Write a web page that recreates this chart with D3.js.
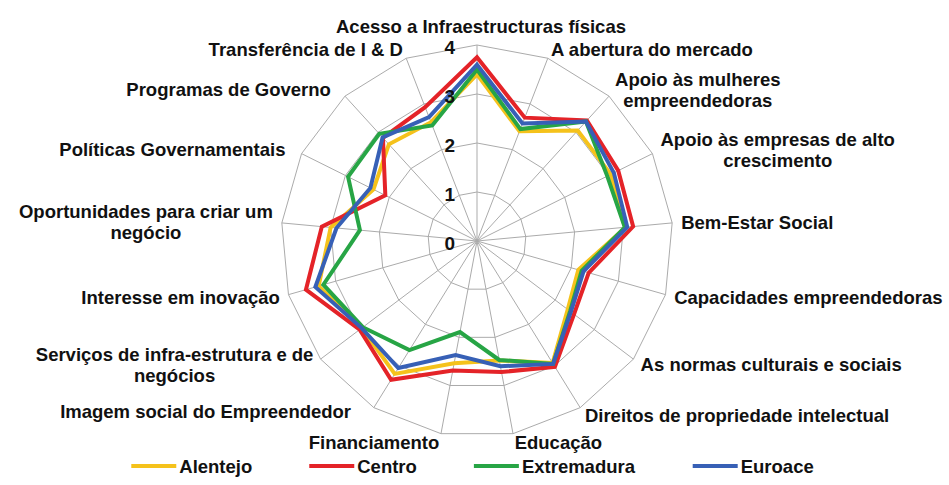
<!DOCTYPE html>
<html>
<head>
<meta charset="utf-8">
<script src="https://cdn.jsdelivr.net/npm/d3@7/dist/d3.min.js"></script>
<style>
  html, body { margin: 0; padding: 0; background: #ffffff; }
  svg { display: block; }
  text { font-family: "Liberation Sans", Arial, sans-serif; font-weight: bold; fill: #111111; }
</style>
</head>
<body>
<svg id="chart" width="949" height="485"></svg>
<script>
// ---------------- data ----------------
const categories = [
  "Acesso a Infraestructuras físicas",
  "A abertura do mercado",
  "Apoio às mulheres empreendedoras",
  "Apoio às empresas de alto crescimento",
  "Bem-Estar Social",
  "Capacidades empreendedoras",
  "As normas culturais e sociais",
  "Direitos de propriedade intelectual",
  "Educação",
  "Financiamento",
  "Imagem social do Empreendedor",
  "Serviços de infra-estrutura e de negócios",
  "Interesse em inovação",
  "Oportunidades para criar um negócio",
  "Políticas Governamentais",
  "Programas de Governo",
  "Transferência de I & D"
];
const seriesNames = ["Alentejo", "Centro", "Extremadura", "Euroace"];
const alentejo    = [3.40, 2.40, 3.05, 3.05, 3.05, 2.15, 2.32, 2.93, 2.48, 2.54, 3.19, 2.95, 3.36, 3.00, 2.36, 2.67, 2.60];
const centro      = [3.75, 2.70, 3.33, 3.22, 3.20, 2.37, 2.48, 3.02, 2.72, 2.69, 3.33, 3.00, 3.63, 3.18, 2.09, 2.85, 2.93];
const extremadura = [3.50, 2.45, 3.30, 2.97, 3.03, 2.22, 2.38, 2.95, 2.47, 1.89, 2.62, 2.92, 3.26, 2.40, 2.94, 2.96, 2.53];
const euroace     = [3.60, 2.57, 3.30, 3.12, 3.08, 2.26, 2.40, 2.95, 2.60, 2.37, 3.05, 2.95, 3.43, 2.88, 2.43, 2.86, 2.71];
const tickValues  = [0, 1, 2, 3, 4];
const tickLabels  = ["0", "1", "2", "3", "4"];

// ---------------- layout ----------------
const svg = d3.select("#chart");
const cx = 477, cy = 241;
const maxR = 196;
const colors = ["#F5C21B", "#E42328", "#27A545", "#3760B6"];
const seriesData = [alentejo, centro, extremadura, euroace];

const r = d3.scaleLinear().domain([0, 4]).range([0, maxR]);
const angle = d3.scaleLinear().domain([0, categories.length]).range([0, 2 * Math.PI]);

const g = svg.append("g").attr("transform", `translate(${cx},${cy})`);

// grid rings (polygons)
const ringLine = d3.lineRadial()
  .angle((d, i) => angle(i))
  .radius(d => r(d))
  .curve(d3.curveLinearClosed);

g.selectAll("path.ring")
  .data(tickValues.filter(v => v > 0))
  .join("path")
  .attr("class", "ring")
  .attr("d", v => ringLine(categories.map(() => v)))
  .attr("fill", "none")
  .attr("stroke", "#ababab")
  .attr("stroke-width", 1);

// spokes
g.selectAll("line.spoke")
  .data(categories)
  .join("line")
  .attr("class", "spoke")
  .attr("x1", 0).attr("y1", 0)
  .attr("x2", (d, i) => r(4) * Math.sin(angle(i)))
  .attr("y2", (d, i) => -r(4) * Math.cos(angle(i)))
  .attr("stroke", "#ababab")
  .attr("stroke-width", 1);

// series
const seriesLine = d3.lineRadial()
  .angle((d, i) => angle(i))
  .radius(d => r(d))
  .curve(d3.curveLinearClosed);

g.selectAll("path.series")
  .data(seriesData)
  .join("path")
  .attr("class", "series")
  .attr("d", d => seriesLine(d))
  .attr("fill", "none")
  .attr("stroke", (d, i) => colors[i])
  .attr("stroke-width", 4)
  .attr("stroke-linejoin", "miter");

// tick labels
g.selectAll("text.tick")
  .data(tickValues)
  .join("text")
  .attr("class", "tick")
  .attr("x", -22)
  .attr("y", v => -r(v) + 2)
  .attr("text-anchor", "end")
  .attr("dominant-baseline", "central")
  .style("font-size", "19px")
  .text((v, i) => tickLabels[i]);

// category labels
const wraps = {
  2: ["Apoio às mulheres", "empreendedoras"],
  3: ["Apoio às empresas de alto", "crescimento"],
  11: ["Serviços de infra-estrutura e de", "negócios"],
  13: ["Oportunidades para criar um", "negócio"]
};
const nudge = { 10: [-18, -4], 14: [-8, 0], 15: [-8, 0], 0: [4, 0] };
const labelR = 205;
const lineH = 21;
const fs = 18.5;

categories.forEach((name, i) => {
  const a = angle(i);
  const s = Math.sin(a), c = Math.cos(a);
  let px = labelR * s, py = -labelR * c;
  const nd = nudge[i] || [0, 0];
  px += nd[0]; py += nd[1];
  const lines = wraps[i] || [name];
  const t = g.append("text").style("font-size", fs + "px");
  lines.forEach((ln, k) => {
    t.append("tspan").attr("x", 0).attr("y", k * lineH).text(ln);
  });
  const bb = t.node().getBBox();
  const w = bb.width;
  const blockH = (lines.length - 1) * lineH;
  t.selectAll("tspan").each(function () {
    const lw = this.getComputedTextLength();
    d3.select(this).attr("x", (w - lw) / 2);
  });
  let left;
  if (Math.abs(s) < 0.05) left = px - w / 2;
  else if (s > 0) left = px;
  else left = px - w;
  let top; // baseline of first line
  if (i === 0) top = py - 3;
  else top = py - blockH / 2 + 6.5;
  t.attr("transform", `translate(${left},${top})`);
});

// legend
const legend = svg.append("g").attr("transform", "translate(0,466)");
const items = legend.selectAll("g.item").data(seriesNames).join("g").attr("class", "item");
items.append("line")
  .attr("x1", 0).attr("x2", 45).attr("y1", 0).attr("y2", 0)
  .attr("stroke", (d, i) => colors[i]).attr("stroke-width", 4);
items.append("text")
  .attr("x", 48).attr("y", 0)
  .attr("dominant-baseline", "central")
  .style("font-size", fs + "px")
  .text(d => d);
let widths = [];
items.each(function () { widths.push(this.getBBox().width); });
const gap = 57;
const total = d3.sum(widths) + gap * (widths.length - 1);
let xpos = 472.5 - total / 2;
items.each(function (d, i) {
  d3.select(this).attr("transform", `translate(${xpos},0)`);
  xpos += widths[i] + gap;
});
</script>
</body>
</html>
